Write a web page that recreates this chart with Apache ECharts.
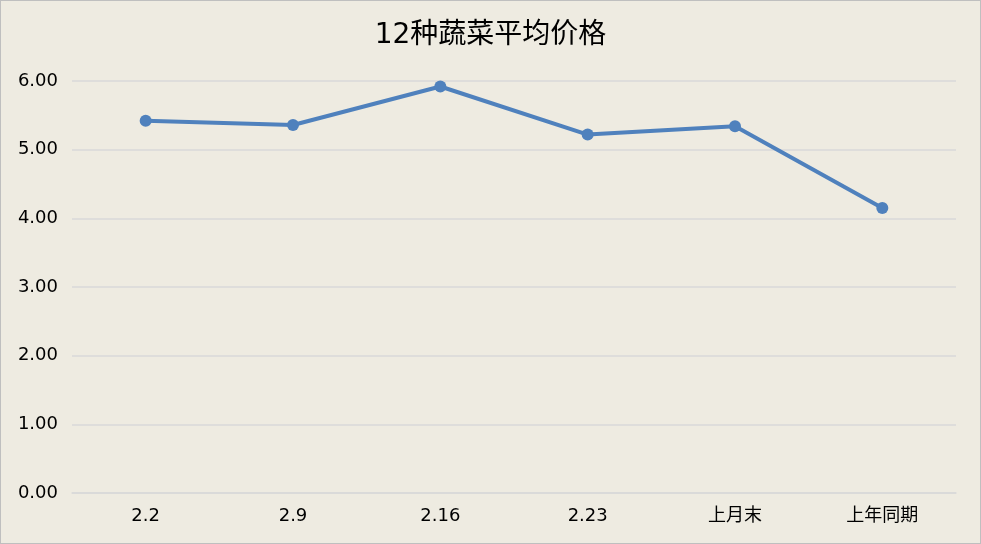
<!DOCTYPE html>
<html><head><meta charset="utf-8">
<script src="https://cdn.jsdelivr.net/npm/echarts@6/dist/echarts.min.js"></script>
<style>html,body{margin:0;padding:0;background:#EEEBE1;}#c{width:979px;height:542px;border:1px solid #BFBFBF;}</style>
</head><body><div id="c"></div>
<script>
var categories = ['2.2', '2.9', '2.16', '2.23', '上月末', '上年同期'];
var prices = [5.42, 5.36, 5.92, 5.22, 5.34, 4.15];
var yTicks = { min: 0, max: 6, interval: 1 };
var FONT = "'DejaVu Sans', 'Noto Sans CJK SC', sans-serif";
var chart = echarts.init(document.getElementById('c'));
chart.setOption({
  backgroundColor: '#EEEBE1',
  animation: false,
  title: {
    text: '12种蔬菜平均价格', left: 'center', top: 16,
    textStyle: { fontFamily: FONT, fontSize: 28, fontWeight: 'normal', color: '#000' }
  },
  grid: { left: 71, right: 24, top: 80, bottom: 50 },
  xAxis: {
    type: 'category', data: categories, boundaryGap: true,
    axisLine: { show: true, lineStyle: { color: '#D9D9D9', width: 1.5 } },
    axisTick: { show: false },
    axisLabel: { fontFamily: FONT, fontSize: 18, color: '#000', margin: 14 }
  },
  yAxis: {
    type: 'value', min: yTicks.min, max: yTicks.max, interval: yTicks.interval,
    axisLine: { show: false }, axisTick: { show: false },
    splitLine: { lineStyle: { color: '#D9D9D9', width: 1.5 } },
    axisLabel: { fontFamily: FONT, fontSize: 18, color: '#000', margin: 14,
      formatter: function (v) { return v.toFixed(2); } }
  },
  series: [{
    type: 'line', data: prices, symbol: 'circle', symbolSize: 12,
    lineStyle: { color: '#4F81BD', width: 4 },
    itemStyle: { color: '#4F81BD' }
  }]
});
</script></body></html>
